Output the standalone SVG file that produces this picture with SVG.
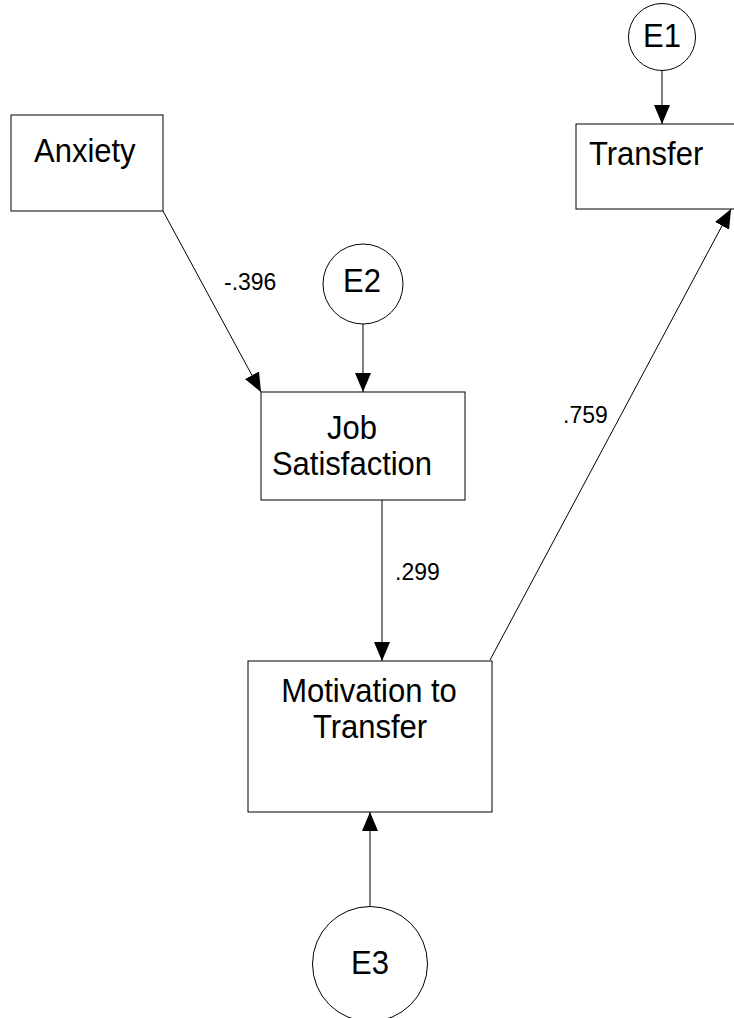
<svg xmlns="http://www.w3.org/2000/svg" width="734" height="1018" viewBox="0 0 734 1018">
  <style>
    .box { fill: #ffffff; stroke: #000000; stroke-width: 1; }
    .err { fill: #ffffff; stroke: #000000; stroke-width: 1; }
    .lbl { font-family: "Liberation Sans", Arial, sans-serif; font-size: 31px; fill: #000000; }
    .coef { font-family: "Liberation Sans", Arial, sans-serif; font-size: 23px; fill: #000000; }
    .path { stroke: #000000; stroke-width: 1; fill: none; marker-end: url(#head); }
  </style>
  <defs>
    <marker id="head" markerUnits="userSpaceOnUse" markerWidth="20" markerHeight="18" refX="19" refY="8" orient="auto">
      <path d="M0,0 L19,8 L0,16 Z" fill="#000000"/>
    </marker>
  </defs>
  <rect width="734" height="1018" fill="#ffffff"/>

  <!-- regression paths with their coefficients -->
  <g id="connectors">
    <line class="path" x1="163" y1="211" x2="261" y2="392"/>
    <line class="path" x1="363" y1="324" x2="363" y2="392"/>
    <line class="path" x1="662" y1="70" x2="662" y2="124"/>
    <line class="path" x1="382" y1="500" x2="382" y2="661"/>
    <line class="path" x1="490" y1="660" x2="731" y2="209"/>
    <line class="path" x1="370" y1="906" x2="370" y2="812"/>
    <text class="coef" transform="translate(224,290) scale(1,1.08)">-.396</text>
    <text class="coef" transform="translate(563,423) scale(1,1.08)">.759</text>
    <text class="coef" transform="translate(395,580) scale(1,1.08)">.299</text>
  </g>

  <g id="anxiety">
    <rect class="box" x="11" y="115" width="152" height="96"/>
    <text class="lbl" transform="translate(34,162) scale(1,1.08)">Anxiety</text>
  </g>

  <g id="transfer">
    <rect class="box" x="576" y="124" width="160" height="85"/>
    <text class="lbl" transform="translate(589,165) scale(1,1.08)">Transfer</text>
  </g>

  <g id="e1">
    <circle class="err" cx="662" cy="37" r="33.5"/>
    <text class="lbl" text-anchor="middle" transform="translate(662,47) scale(1,1.08)">E1</text>
  </g>

  <g id="e2">
    <circle class="err" cx="363" cy="284" r="40"/>
    <text class="lbl" text-anchor="middle" transform="translate(362,292) scale(1,1.08)">E2</text>
  </g>

  <g id="job-satisfaction">
    <rect class="box" x="261" y="392" width="204" height="108"/>
    <text class="lbl" text-anchor="middle" transform="translate(352,439) scale(1,1.08)">Job</text>
    <text class="lbl" text-anchor="middle" transform="translate(352,475) scale(1,1.08)">Satisfaction</text>
  </g>

  <g id="motivation">
    <rect class="box" x="248" y="661" width="244" height="151"/>
    <text class="lbl" text-anchor="middle" transform="translate(369,702) scale(1,1.08)">Motivation to</text>
    <text class="lbl" text-anchor="middle" transform="translate(370,738) scale(1,1.08)">Transfer</text>
  </g>

  <g id="e3">
    <circle class="err" cx="370" cy="964" r="57.5"/>
    <text class="lbl" text-anchor="middle" transform="translate(370,974) scale(1,1.08)">E3</text>
  </g>
</svg>
